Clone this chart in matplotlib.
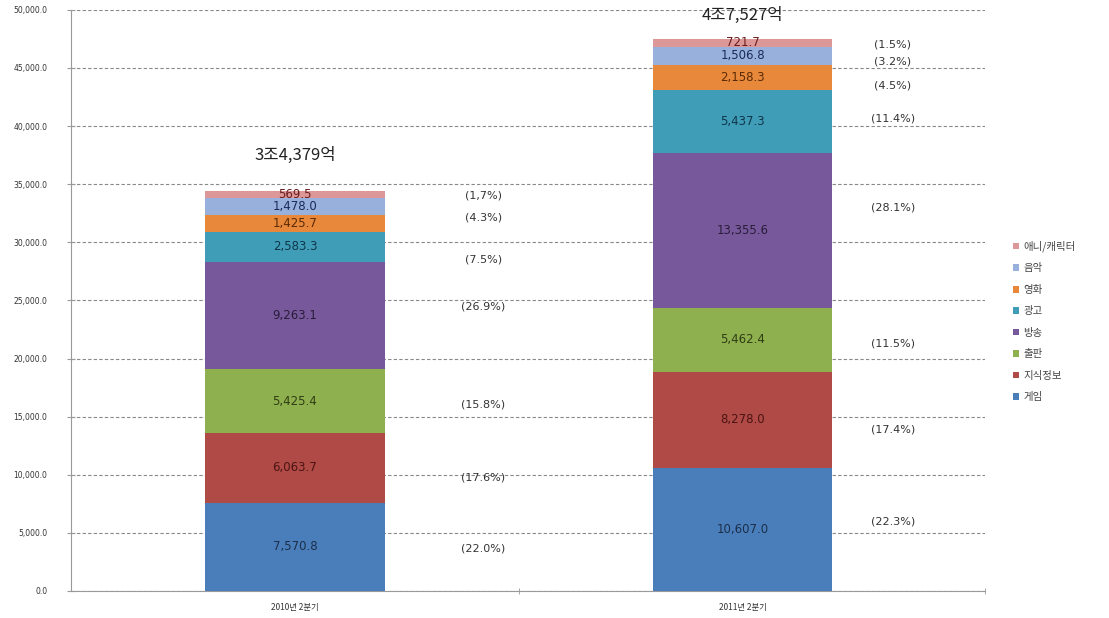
import numpy as np
import matplotlib
matplotlib.use("Agg")
import matplotlib.pyplot as plt

plt.rcParams['font.family'] = ['Noto Sans CJK KR', 'DejaVu Sans']
NUM_FONT = ['DejaVu Sans']

periods = ["2010년 2분기", "2011년 2분기"]
genres = ["게임", "지식정보", "출판", "방송", "광고", "영화", "음악", "애니/캐릭터"]
v2010 = [7570.8, 6063.7, 5425.4, 9263.1, 2583.3, 1425.7, 1478.0, 569.5]
v2011 = [10607.0, 8278.0, 5462.4, 13355.6, 5437.3, 2158.3, 1506.8, 721.7]
pct2010 = ["(22.0%)", "(17.6%)", "(15.8%)", "(26.9%)", "(7.5%)", None, "(4.3%)", "(1,7%)"]
pct2011 = ["(22.3%)", "(17.4%)", "(11.5%)", "(28.1%)", "(11.4%)", "(4.5%)", "(3.2%)", "(1.5%)"]
totals = ["3조4,379억", "4조7,527억"]

colors = ["#4a7ebb", "#b04a47", "#8fb04e", "#76589b", "#3f9db8", "#e8883a", "#98b0dc", "#dc9898"]
text_colors = ["#1b2f4a", "#4a1412", "#2f3d14", "#2a1d3a", "#10364a", "#5a2a05", "#1a2a5a", "#6a1a1a"]
# vertical nudges (pixels, + = down) of the percent labels relative to segment centres
pct_dy = [[2, 10, 3, -9, 13, 0, 11, 1],
          [-8, 10, 4, -23, -3, 8, 6, 2]]
pct_dx = [0.42, 0.335]

fig = plt.figure(figsize=(11.09, 6.18), dpi=100)
ax = fig.add_axes([0.064, 0.0437, 0.824, 0.9403])

x = np.arange(len(periods))
w = 0.4
pcts = [pct2010, pct2011]
bottoms = np.zeros(len(periods))
for i, g in enumerate(genres):
    vals = np.array([v2010[i], v2011[i]])
    ax.bar(x, vals, w, bottom=bottoms, color=colors[i], label=g, zorder=3)
    for j in range(len(periods)):
        yc = bottoms[j] + vals[j] / 2
        ax.text(x[j], yc, f"{vals[j]:,.1f}", ha="center", va="center",
                fontsize=8.5, color=text_colors[i], zorder=4, family=NUM_FONT)
        p = pcts[j][i]
        if p:
            ax.annotate(p, (x[j] + pct_dx[j], yc), xytext=(0, -pct_dy[j][i] * 0.72),
                        textcoords="offset points", ha="center", va="center",
                        fontsize=8, color="#333333", family=NUM_FONT)
    bottoms += vals

for j in range(len(periods)):
    dy = 36 if j == 0 else 23
    ax.annotate(totals[j], (x[j], bottoms[j]), xytext=(0, dy * 0.72),
                textcoords="offset points", ha="center", va="center",
                fontsize=12, color="#222222")

ax.set_xlim(-0.5, 1.54)
ax.set_ylim(0, 50000)
ax.set_yticks(np.arange(0, 50001, 5000))
ax.set_yticklabels([f"{t:,.1f}" for t in np.arange(0, 50001, 5000)], fontsize=5.5,
                   color="#333333", family=NUM_FONT)
ax.yaxis.grid(True, ls=(0, (3, 2)), color="#888888", lw=0.8, zorder=0)
ax.set_xticks(x)
ax.set_xticklabels(periods, fontsize=6, color="#333333")
ax.tick_params(axis="x", length=0, pad=9)
ax.set_xticks([0.5, 1.54], minor=True)
ax.tick_params(axis="x", which="minor", length=4, color="#999999", direction="inout")
ax.tick_params(axis="y", length=6, direction="inout", color="#999999", pad=14)
for s in ["top", "right"]:
    ax.spines[s].set_visible(False)
for s in ["left", "bottom"]:
    ax.spines[s].set_color("#999999")

h, l = ax.get_legend_handles_labels()
leg = fig.legend(h[::-1], l[::-1], loc="center left", bbox_to_anchor=(0.905, 0.48),
                 frameon=False, fontsize=7.5, handlelength=0.6, handleheight=0.6,
                 handletextpad=0.4, labelspacing=1.1)
for t in leg.get_texts():
    t.set_color("#444444")

fig.savefig("out.png", dpi=100)
